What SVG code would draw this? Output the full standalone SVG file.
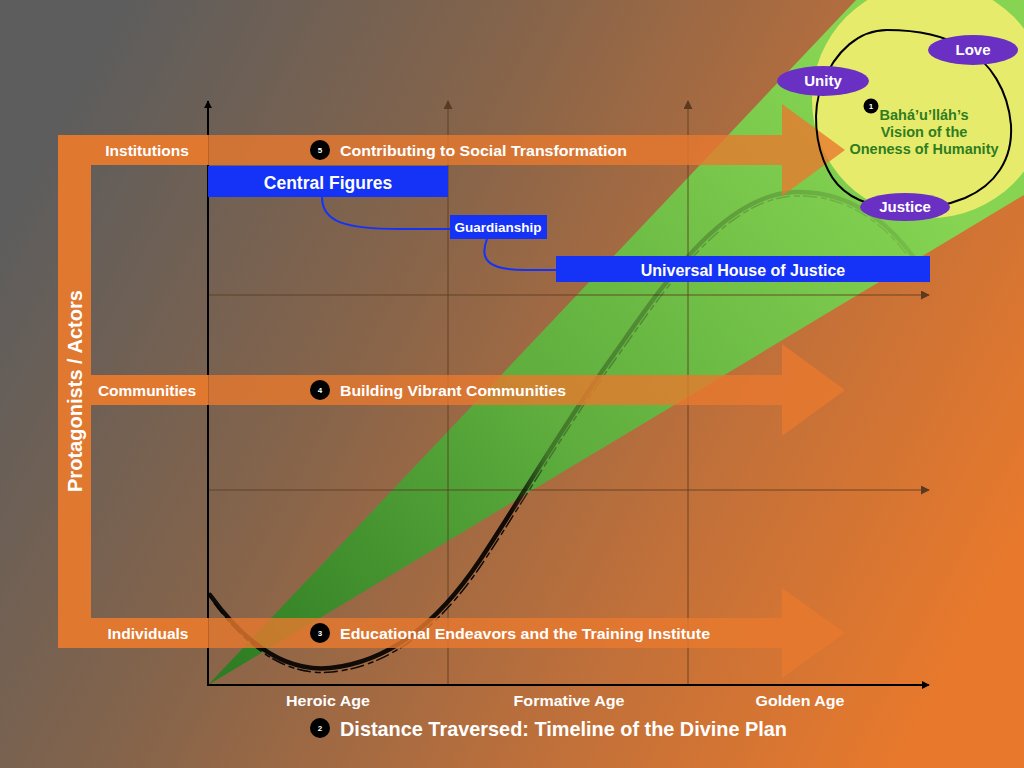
<svg xmlns="http://www.w3.org/2000/svg" width="1024" height="768" viewBox="0 0 1024 768">
<defs>
<linearGradient id="bg" x1="0" y1="0.3" x2="1" y2="0.7">
<stop offset="0" stop-color="#5d5d5d"/>
<stop offset="0.35" stop-color="#86644a"/>
<stop offset="0.7" stop-color="#c0703a"/>
<stop offset="1" stop-color="#e8792c"/>
</linearGradient>
<linearGradient id="gr" gradientUnits="userSpaceOnUse" x1="208" y1="685" x2="880" y2="120">
<stop offset="0" stop-color="#2c7a22"/>
<stop offset="0.5" stop-color="#5fae3e"/>
<stop offset="1" stop-color="#86d452"/>
</linearGradient>
<linearGradient id="cv" gradientUnits="userSpaceOnUse" x1="208" y1="0" x2="930" y2="0">
<stop offset="0" stop-color="#000" stop-opacity="0.9"/>
<stop offset="0.42" stop-color="#000" stop-opacity="0.9"/>
<stop offset="0.47" stop-color="#000" stop-opacity="0.3"/>
<stop offset="0.65" stop-color="#000" stop-opacity="0.22"/>
<stop offset="1" stop-color="#000" stop-opacity="0.08"/>
</linearGradient>
<marker id="ah" viewBox="0 0 10 10" refX="9" refY="5" markerWidth="8" markerHeight="8" markerUnits="userSpaceOnUse" orient="auto"><path d="M0,0 L10,5 L0,10 Z" fill="#000"/></marker>
<marker id="ahg" viewBox="0 0 10 10" refX="9" refY="5" markerWidth="9" markerHeight="9" markerUnits="userSpaceOnUse" orient="auto"><path d="M0,0 L10,5 L0,10 Z" fill="#5a3a20"/></marker>
<style>
text{font-family:"Liberation Sans",Arial,sans-serif;font-weight:bold;fill:#fff}
.lbl{font-size:15.5px}
.arrow{fill:#e8792e;fill-opacity:0.8}
.solid{fill:#e07830}
.grid{stroke:#5a3a20;stroke-opacity:0.55;stroke-width:1.5;fill:none}
.axis{stroke:#000;stroke-width:2;fill:none}
.blue{fill:#1433f7}
.conn{stroke:#1433f7;stroke-width:2;fill:none}
.badge{fill:#000}
.bn{font-size:8px;text-anchor:middle}
.purple{fill:#6a30c4}
.vis{fill:#2f7d1f;font-size:14.5px;text-anchor:middle}
.ell{font-size:15px;text-anchor:middle}
</style>
</defs>
<rect width="1024" height="768" fill="url(#bg)"/>
<polygon points="208,685 856,0 1024,0 1024,195" fill="url(#gr)"/>
<circle cx="930" cy="100" r="118" fill="#e6eb6c"/>

<g id="gridlines">
<line class="grid" x1="448" y1="685" x2="448" y2="101" marker-end="url(#ahg)"/>
<line class="grid" x1="688" y1="685" x2="688" y2="101" marker-end="url(#ahg)"/>
<line class="grid" x1="208" y1="295" x2="929" y2="295" marker-end="url(#ahg)"/>
<line class="grid" x1="208" y1="490" x2="929" y2="490" marker-end="url(#ahg)"/>
</g>

<g id="curve">
<path d="M210,595 C250,650 290,672 330,668 C390,662 440,620 480,560 C520,500 560,430 610,360 C660,290 720,195 795,192 C855,190 900,230 928,280" stroke="url(#cv)" stroke-width="4.5" fill="none" stroke-linecap="round"/>
<path d="M214,603 C254,656 292,676 332,672 C392,666 442,624 482,564 C522,504 562,434 612,364 C662,294 722,199 795,196 C855,194 898,234 925,283" stroke="url(#cv)" stroke-width="1.5" fill="none" stroke-dasharray="14 4 6 3"/>
</g>

<g id="axes">
<line class="axis" x1="208" y1="686" x2="208" y2="101" marker-end="url(#ah)"/>
<line class="axis" x1="207" y1="685" x2="929" y2="685" marker-end="url(#ah)"/>
</g>

<g id="arrow-institutions">
<polygon class="arrow" points="208,135 782,135 782,104 845,150 782,196 782,165 208,165"/>
</g>
<g id="arrow-communities">
<polygon class="arrow" points="208,375 782,375 782,344 845,390 782,436 782,405 208,405"/>
</g>
<g id="arrow-individuals">
<polygon class="arrow" points="208,618 782,618 782,588 845,633 782,678 782,648 208,648"/>
</g>

<g id="protagonists">
<path class="solid" d="M58,135 H208 V165 H91 V375 H208 V405 H91 V618 H208 V648 H58 Z"/>
<text x="75" y="391" font-size="20" text-anchor="middle" transform="rotate(-90 75 391)" dy="7" textLength="202" lengthAdjust="spacingAndGlyphs">Protagonists / Actors</text>
<text class="lbl" x="147" y="155.5" text-anchor="middle">Institutions</text>
<text class="lbl" x="147" y="395.5" text-anchor="middle">Communities</text>
<text class="lbl" x="148" y="638.5" text-anchor="middle">Individuals</text>
</g>

<g id="label-5">
<circle class="badge" cx="320" cy="150" r="10"/><text class="bn" x="320" y="153">5</text>
<text class="lbl" x="340" y="155.5" textLength="287" lengthAdjust="spacingAndGlyphs">Contributing to Social Transformation</text>
</g>
<g id="label-4">
<circle class="badge" cx="320" cy="390" r="10"/><text class="bn" x="320" y="393">4</text>
<text class="lbl" x="340" y="395.5" textLength="226" lengthAdjust="spacingAndGlyphs">Building Vibrant Communities</text>
</g>
<g id="label-3">
<circle class="badge" cx="320" cy="633" r="10"/><text class="bn" x="320" y="636">3</text>
<text class="lbl" x="340" y="638.5" textLength="370" lengthAdjust="spacingAndGlyphs">Educational Endeavors and the Training Institute</text>
</g>
<g id="label-2">
<circle class="badge" cx="320" cy="728" r="10"/><text class="bn" x="320" y="731">2</text>
<text x="340" y="735.5" font-size="20.5" textLength="447" lengthAdjust="spacingAndGlyphs">Distance Traversed: Timeline of the Divine Plan</text>
</g>

<g id="ages">
<text class="lbl" x="328" y="705.5" text-anchor="middle" textLength="84" lengthAdjust="spacingAndGlyphs">Heroic Age</text>
<text class="lbl" x="569" y="705.5" text-anchor="middle" textLength="111" lengthAdjust="spacingAndGlyphs">Formative Age</text>
<text class="lbl" x="800" y="705.5" text-anchor="middle" textLength="89" lengthAdjust="spacingAndGlyphs">Golden Age</text>
</g>

<g id="connectors">
<path class="conn" d="M322,197 C322,222 345,229 400,229 L450,229"/>
<path class="conn" d="M487,239 C478,262 492,270 525,270 L556,270"/>
</g>

<g id="central-figures">
<rect class="blue" x="208" y="166" width="240" height="31"/>
<text x="328" y="189" font-size="17.5" text-anchor="middle">Central Figures</text>
</g>
<g id="guardianship">
<rect class="blue" x="450" y="215" width="97" height="24"/>
<text x="498" y="232" font-size="13.5" text-anchor="middle">Guardianship</text>
</g>
<g id="uhj">
<rect class="blue" x="556" y="256" width="374" height="26"/>
<text x="743" y="275.5" font-size="16" text-anchor="middle">Universal House of Justice</text>
</g>

<g id="vision">
<path d="M887,30 C920,30 945,36 965,48 C990,62 1008,90 1011,125 C1013,160 995,185 965,198 C940,208 915,211 890,208 C865,205 840,195 828,170 C815,145 812,110 822,85 C835,50 860,30 887,30 Z" fill="none" stroke="#000" stroke-width="2"/>
<circle class="badge" cx="871" cy="106" r="7.5"/><text class="bn" x="871" y="109" font-size="7">1</text>
<text class="vis" x="924" y="120">Bahá’u’lláh’s</text>
<text class="vis" x="924" y="137">Vision of the</text>
<text class="vis" x="924" y="154">Oneness of Humanity</text>
</g>
<g id="unity">
<ellipse class="purple" cx="823" cy="81" rx="46" ry="15"/>
<text class="ell" x="823" y="86">Unity</text>
</g>
<g id="love">
<ellipse class="purple" cx="973" cy="50" rx="45" ry="15"/>
<text class="ell" x="973" y="55">Love</text>
</g>
<g id="justice">
<ellipse class="purple" cx="905" cy="207" rx="45" ry="14"/>
<text class="ell" x="905" y="212">Justice</text>
</g>
</svg>
